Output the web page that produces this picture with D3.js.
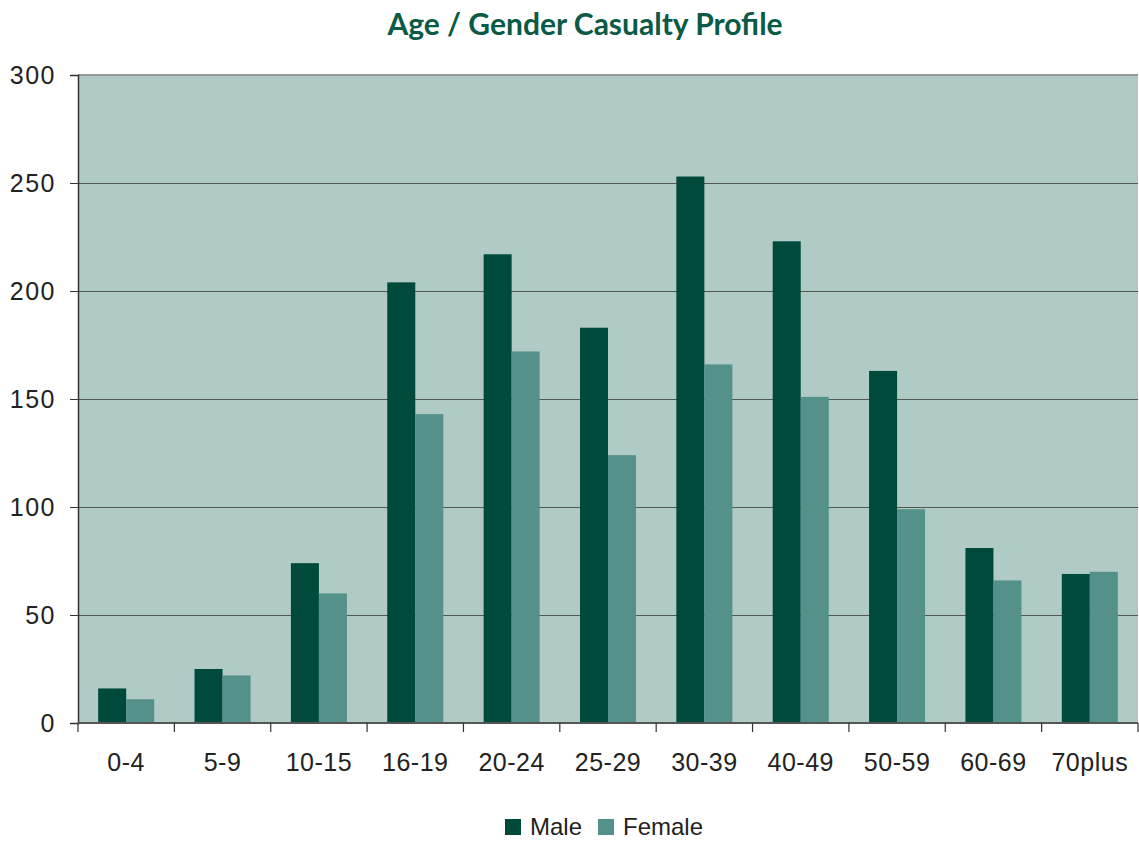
<!DOCTYPE html>
<html>
<head>
<meta charset="utf-8">
<script src="https://cdn.jsdelivr.net/npm/d3@7"></script>
<style>
  html, body { margin: 0; padding: 0; background: #ffffff; }
  svg { display: block; }
</style>
</head>
<body>
<svg id="chart" width="1139" height="842"></svg>
<script>
// Casualties by age band, split by gender
const ageBands = ["0-4", "5-9", "10-15", "16-19", "20-24", "25-29", "30-39", "40-49", "50-59", "60-69", "70plus"];
const maleValues = [16, 25, 74, 204, 217, 183, 253, 223, 163, 81, 69];
const femaleValues = [11, 22, 60, 143, 172, 124, 166, 151, 99, 66, 70];
const seriesNames = ["Male", "Female"];
const yTicks = [0, 50, 100, 150, 200, 250, 300];

const colors = { Male: "#004a3b", Female: "#53918a" };
const labelFont = "'Liberation Sans', Arial, sans-serif";

const svg = d3.select("#chart");
const margin = { left: 78, right: 1138, top: 75, bottom: 723 };

const x = d3.scaleBand().domain(ageBands).range([margin.left, margin.right]).paddingInner(0).paddingOuter(0);
const xInner = d3.scaleBand().domain(seriesNames).range([0, x.bandwidth()]).paddingInner(0).paddingOuter(0.72);
const y = d3.scaleLinear().domain([0, 300]).range([margin.bottom, margin.top]);

// Plot background
svg.append("rect")
  .attr("x", margin.left).attr("y", margin.top)
  .attr("width", margin.right - margin.left).attr("height", margin.bottom - margin.top)
  .attr("fill", "#b0cbc6");

// Horizontal gridlines
svg.append("g").selectAll("line")
  .data(yTicks.filter(d => d > 0 && d < 300))
  .join("line")
  .attr("x1", margin.left).attr("x2", margin.right)
  .attr("y1", d => Math.round(y(d)) + 0.5).attr("y2", d => Math.round(y(d)) + 0.5)
  .attr("stroke", "#555555").attr("stroke-width", 1);

// Top border of plot area
svg.append("line")
  .attr("x1", margin.left).attr("x2", margin.right)
  .attr("y1", y(300)).attr("y2", y(300))
  .attr("stroke", "#9a9a9a").attr("stroke-width", 2);

// Bars
const rows = ageBands.map((band, i) => ({ band, values: [
  { name: "Male", value: maleValues[i] },
  { name: "Female", value: femaleValues[i] }
]}));

const groups = svg.append("g").selectAll("g")
  .data(rows).join("g")
  .attr("transform", d => `translate(${x(d.band)},0)`);

groups.selectAll("rect")
  .data(d => d.values).join("rect")
  .attr("x", d => xInner(d.name))
  .attr("width", xInner.bandwidth())
  .attr("y", d => y(d.value))
  .attr("height", d => y(0) - y(d.value))
  .attr("fill", d => colors[d.name]);

// Y axis
const yAxis = svg.append("g")
  .attr("transform", `translate(${margin.left},0)`)
  .call(d3.axisLeft(y).tickValues(yTicks).tickSize(8).tickPadding(14).tickFormat(d3.format("d")));
yAxis.select(".domain").attr("stroke", "#333333").attr("stroke-width", 1.5);
yAxis.selectAll(".tick line").attr("stroke", "#333333");
yAxis.selectAll(".tick text")
  .attr("font-family", labelFont)
  .attr("font-size", 25).attr("letter-spacing", 1.5).attr("fill", "#222222");

// X axis: ticks at category boundaries
const xAxisG = svg.append("g");
xAxisG.append("line")
  .attr("x1", margin.left).attr("x2", margin.right)
  .attr("y1", y(0)).attr("y2", y(0))
  .attr("stroke", "#555555").attr("stroke-width", 2);
const boundaries = ageBands.map(b => x(b)).concat([x(ageBands[ageBands.length - 1]) + x.bandwidth()]);
xAxisG.selectAll("line.tick")
  .data(boundaries).join("line").attr("class", "tick")
  .attr("x1", d => d).attr("x2", d => d)
  .attr("y1", y(0)).attr("y2", y(0) + 9)
  .attr("stroke", "#333333").attr("stroke-width", 1.2);
xAxisG.selectAll("text")
  .data(ageBands).join("text")
  .attr("x", d => x(d) + x.bandwidth() / 2)
  .attr("y", 771)
  .attr("text-anchor", "middle")
  .attr("font-family", labelFont)
  .attr("font-size", 25).attr("letter-spacing", 0.5).attr("fill", "#222222")
  .text(d => d);

// Title
svg.append("text")
  .attr("x", 585).attr("y", 35)
  .attr("text-anchor", "middle")
  .attr("font-family", "Lato, 'Open Sans', sans-serif")
  .attr("font-weight", "bold")
  .attr("font-size", 30)
  .attr("fill", "#0b5a45")
  .text("Age / Gender Casualty Profile");

// Legend
const legend = svg.append("g").attr("transform", "translate(505,819)");
const legendItems = [{ name: "Male", dx: 0 }, { name: "Female", dx: 93 }];
legendItems.forEach(item => {
  legend.append("rect")
    .attr("x", item.dx).attr("y", 0).attr("width", 16).attr("height", 16)
    .attr("fill", colors[item.name]);
  legend.append("text")
    .attr("x", item.dx + 25).attr("y", 16)
    .attr("font-family", labelFont)
    .attr("font-size", 24).attr("fill", "#222222")
    .text(item.name);
});
</script>
</body>
</html>
